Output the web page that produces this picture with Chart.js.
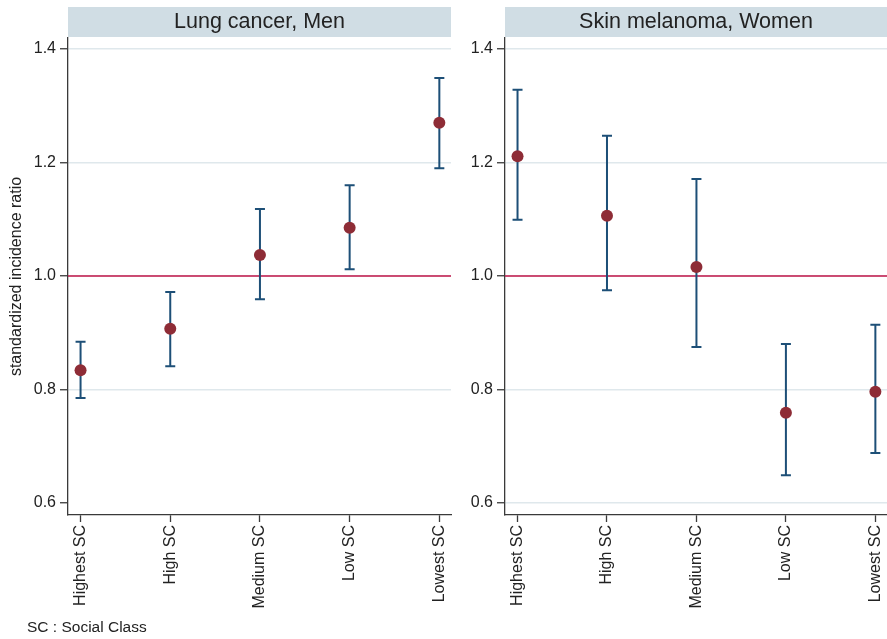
<!DOCTYPE html>
<html>
<head>
<meta charset="utf-8">
<script src="https://cdn.jsdelivr.net/npm/chart.js@4/dist/chart.umd.min.js"></script>
<style>
  html, body { margin: 0; padding: 0; background: #ffffff; }
  body { width: 887px; height: 639px; position: relative; overflow: hidden; font-family: "Liberation Sans", Arial, sans-serif; }
  .panel { position: absolute; top: 0; height: 639px; }
  #leftWrap { left: 0; width: 457px; }
  #rightWrap { left: 437px; width: 456px; }
  #note { position: absolute; left: 27px; top: 618px; font-size: 15.5px; color: #222; white-space: nowrap; }
</style>
</head>
<body>
<div class="panel" id="leftWrap"><canvas id="lungChart"></canvas></div>
<div class="panel" id="rightWrap"><canvas id="melChart"></canvas></div>
<div id="note">SC : Social Class</div>
<script>
// Social class categories (x axis)
const categories = ["Highest SC", "High SC", "Medium SC", "Low SC", "Lowest SC"];

// Lung cancer, men: standardized incidence ratio with 95% CI
const lungSIR   = [0.834, 0.907, 1.037, 1.085, 1.270];
const lungLower = [0.785, 0.841, 0.959, 1.012, 1.190];
const lungUpper = [0.884, 0.972, 1.118, 1.160, 1.349];

// Skin melanoma, women: standardized incidence ratio with 95% CI
const melSIR   = [1.211, 1.106, 1.016, 0.759, 0.796];
const melLower = [1.099, 0.975, 0.875, 0.649, 0.688];
const melUpper = [1.328, 1.247, 1.171, 0.880, 0.914];

// Y axis tick values and the reference ratio
const yTickValues = [0.6, 0.8, 1.0, 1.2, 1.4];
const referenceRatio = 1.0;

const FONT = "'Liberation Sans', Arial, sans-serif";
const TEXT = '#222222';
const AXIS = '#3a3a3a';
const GRID = '#dfe8ec';
const STRIP = '#d0dde4';
const POINT = '#8e2c36';
const BAR = '#1d4f77';
const REF = '#c2164a';

// Panel header strip above the plot area
const stripPlugin = {
  id: 'strip',
  afterDraw(chart, args, opts) {
    const { ctx, chartArea } = chart;
    ctx.save();
    ctx.fillStyle = STRIP;
    ctx.fillRect(chartArea.left, 7, chartArea.right - chartArea.left, 30);
    ctx.fillStyle = TEXT;
    ctx.font = '21.5px ' + FONT;
    ctx.textAlign = 'center';
    ctx.textBaseline = 'middle';
    ctx.fillText(opts.text, (chartArea.left + chartArea.right) / 2, 22.5);
    ctx.restore();
  }
};

// Reference line at ratio 1 and confidence-interval whiskers
const intervalPlugin = {
  id: 'intervals',
  beforeDatasetsDraw(chart) {
    const { ctx, chartArea, scales } = chart;
    const y0 = scales.y.getPixelForValue(referenceRatio);
    ctx.save();
    ctx.strokeStyle = REF;
    ctx.lineWidth = 1.6;
    ctx.beginPath();
    ctx.moveTo(chartArea.left, y0);
    ctx.lineTo(chartArea.right, y0);
    ctx.stroke();

    const ds = chart.data.datasets[0];
    ctx.strokeStyle = BAR;
    ctx.lineWidth = 2;
    ds.lower.forEach((lo, i) => {
      const x = scales.x.getPixelForValue(i);
      const yl = scales.y.getPixelForValue(lo);
      const yh = scales.y.getPixelForValue(ds.upper[i]);
      ctx.beginPath();
      ctx.moveTo(x, yl); ctx.lineTo(x, yh);
      ctx.moveTo(x - 5, yl); ctx.lineTo(x + 5, yl);
      ctx.moveTo(x - 5, yh); ctx.lineTo(x + 5, yh);
      ctx.stroke();
    });
    ctx.restore();
  }
};

function makePanel(canvasId, width, title, sir, lower, upper, showYTitle, hideBottomGrid) {
  const canvas = document.getElementById(canvasId);
  canvas.width = width;
  canvas.height = 639;
  canvas.style.width = width + 'px';
  canvas.style.height = '639px';
  return new Chart(canvas, {
    type: 'scatter',
    data: {
      datasets: [{
        data: sir.map((v, i) => ({ x: i, y: v })),
        lower: lower,
        upper: upper,
        pointRadius: 6,
        pointHoverRadius: 6,
        pointBackgroundColor: POINT,
        pointBorderColor: POINT,
        pointBorderWidth: 0
      }]
    },
    options: {
      responsive: false,
      animation: false,
      events: [],
      layout: { padding: { top: 38, left: 0, right: 0, bottom: 0 } },
      plugins: {
        legend: { display: false },
        tooltip: { enabled: false },
        strip: { text: title }
      },
      scales: {
        x: {
          type: 'linear',
          min: -0.14,
          max: 4.13,
          afterBuildTicks(scale) { scale.ticks = categories.map((c, i) => ({ value: i })); },
          afterFit(scale) {
            scale.height = 124;
            scale.paddingLeft = 0;
            scale.paddingRight = 0;
          },
          ticks: {
            callback: (v) => categories[v],
            minRotation: 90,
            maxRotation: 90,
            autoSkip: false,
            padding: 3,
            color: TEXT,
            font: { family: FONT, size: 16 }
          },
          grid: { drawOnChartArea: false, drawTicks: true, tickLength: 7, tickColor: AXIS, tickWidth: 1.3 },
          border: { color: AXIS, width: 1.3 }
        },
        y: {
          min: 0.5789,
          max: 1.4194,
          afterBuildTicks(scale) { scale.ticks = yTickValues.map(v => ({ value: v })); },
          afterFit(scale) {
            scale.width = 68;
            scale.paddingTop = 0;
            scale.paddingBottom = 0;
          },
          ticks: {
            callback: (v) => v.toFixed(1),
            padding: 4,
            color: TEXT,
            font: { family: FONT, size: 16 }
          },
          grid: {
            color: (c) => (hideBottomGrid && c.tick && c.tick.value === 0.6) ? 'rgba(0,0,0,0)' : GRID,
            lineWidth: 1.5,
            drawTicks: true,
            tickLength: 8,
            tickColor: AXIS,
            tickWidth: 1.3
          },
          border: { color: AXIS, width: 1.3 },
          title: {
            display: showYTitle,
            text: 'standardized incidence ratio',
            color: TEXT,
            font: { family: FONT, size: 16 },
            padding: { top: 7, bottom: 0 }
          }
        }
      }
    },
    plugins: [intervalPlugin, stripPlugin]
  });
}

makePanel('lungChart', 457, 'Lung cancer, Men', lungSIR, lungLower, lungUpper, true, true);
makePanel('melChart', 456, 'Skin melanoma, Women', melSIR, melLower, melUpper, false, false);
</script>
</body>
</html>
